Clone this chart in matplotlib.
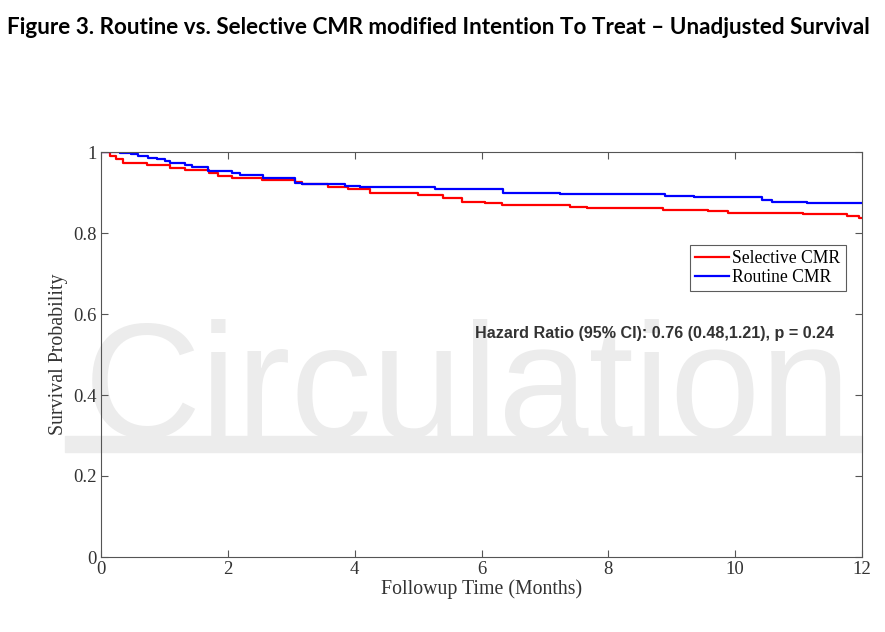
import matplotlib
matplotlib.use("Agg")
import matplotlib.pyplot as plt

# Data (step functions: time in months, survival)
sel_t = [0, 0.14, 0.24, 0.35, 0.73, 1.09, 1.32, 1.70, 1.85, 2.07, 2.54, 3.06, 3.17, 3.58, 3.90,
         4.24, 5.00, 5.39, 5.69, 6.05, 6.32, 7.39, 7.66, 8.86, 9.57, 9.89, 11.07, 11.76, 11.96, 12.0]
sel_s = [1.0, 0.991, 0.983, 0.974, 0.968, 0.961, 0.956, 0.949, 0.941, 0.935, 0.931, 0.927, 0.922,
         0.914, 0.908, 0.900, 0.894, 0.886, 0.877, 0.873, 0.869, 0.865, 0.861, 0.858, 0.854, 0.850,
         0.846, 0.842, 0.838, 0.838]
rout_t = [0, 0.30, 0.48, 0.58, 0.74, 0.88, 1.01, 1.09, 1.32, 1.43, 1.69, 2.07, 2.19, 2.55, 3.06,
          3.17, 3.85, 4.08, 5.27, 6.34, 7.24, 8.89, 9.35, 10.42, 10.58, 11.13, 12.0]
rout_s = [1.0, 0.998, 0.995, 0.990, 0.986, 0.982, 0.978, 0.974, 0.968, 0.962, 0.954, 0.947, 0.942,
          0.935, 0.924, 0.920, 0.917, 0.914, 0.908, 0.900, 0.896, 0.892, 0.888, 0.881, 0.876, 0.873,
          0.873]

series_labels = ["Selective CMR", "Routine CMR"]
x_ticks = [0, 2, 4, 6, 8, 10, 12]
y_ticks = [0, 0.2, 0.4, 0.6, 0.8, 1]
y_tick_labels = ["0", "0.2", "0.4", "0.6", "0.8", "1"]
title = "Figure 3. Routine vs. Selective CMR modified Intention To Treat \u2013 Unadjusted Survival"
hr_text = "Hazard Ratio (95% CI): 0.76 (0.48,1.21), p = 0.24"
watermark = "Circulation"

fig = plt.figure(figsize=(8.85, 6.32), dpi=100)
fig.patch.set_facecolor("white")

# Watermark (behind the axes)
fig.text(84 / 885, 1 - 437 / 632, watermark, fontsize=117, color="#ececec",
         family="Liberation Sans", ha="left", va="baseline", zorder=0)
fig.patches.append(plt.Rectangle((65 / 885, 1 - 452 / 632), (862 - 65) / 885, 16 / 632,
                                 transform=fig.transFigure, color="#ececec", zorder=0))

fig.text(7 / 885, 1 - 27 / 632, title, fontsize=16.2, fontweight="bold", family="Lato",
         ha="left", va="center")

ax = fig.add_axes([101 / 885, 75 / 632, 761 / 885, 405 / 632])
ax.set_zorder(2)
ax.set_facecolor("none")
ax.step(sel_t, sel_s, where="post", color="#ff0000", lw=1.6, label=series_labels[0])
ax.step(rout_t, rout_s, where="post", color="#0000ff", lw=1.6, label=series_labels[1])

ax.set_xlim(0, 12)
ax.set_ylim(0, 1)
ax.set_xticks(x_ticks)
ax.set_xticklabels([str(v) for v in x_ticks])
ax.set_yticks(y_ticks)
ax.set_yticklabels(y_tick_labels)
serif = "Liberation Serif"
for lab in ax.get_xticklabels() + ax.get_yticklabels():
    lab.set_family(serif)
    lab.set_fontsize(13.5)
    lab.set_color("#333333")
ax.tick_params(direction="in", top=True, right=True, length=5, color="#555555", pad=3)
for sp in ax.spines.values():
    sp.set_color("#555555")
    sp.set_linewidth(0.8)
ax.set_xlabel("Followup Time (Months)", family=serif, fontsize=14.3, color="#333333", labelpad=1)
ax.set_ylabel("Survival Probability", family=serif, fontsize=14.3, color="#333333", labelpad=4)

leg = ax.legend(loc="upper left", bbox_to_anchor=(0.774, 0.77), prop={"family": serif, "size": 12.7},
                frameon=True, fancybox=False, edgecolor="#333333", handlelength=1.9,
                handletextpad=0.2, borderpad=0.3, labelspacing=0.1, borderaxespad=0)
leg.get_frame().set_linewidth(0.8)

ax.text(5.90, 0.553, hr_text, fontsize=11.6, fontweight="bold", family="Liberation Sans",
        color="#333333", ha="left", va="center")

fig.savefig("out.png", dpi=100)
